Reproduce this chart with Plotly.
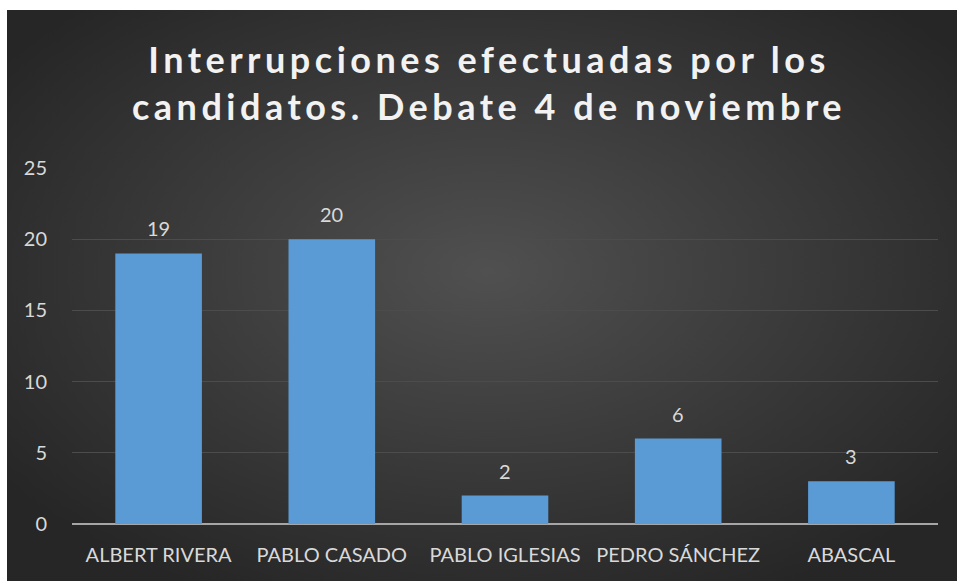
import plotly.graph_objects as go
import urllib.parse

candidatos = ['ALBERT RIVERA', 'PABLO CASADO', 'PABLO IGLESIAS', 'PEDRO SÁNCHEZ', 'ABASCAL']
interrupciones = [19, 20, 2, 6, 3]
y_ticks = [0, 5, 10, 15, 20, 25]

titulo = 'Interrupciones efectuadas por los<br>candidatos. Debate 4 de noviembre'

# radial gradient background (excel "dark" style), as an svg image
svg = ('<svg xmlns="http://www.w3.org/2000/svg" viewBox="0 0 100 100" preserveAspectRatio="none">'
       '<defs><radialGradient id="g" cx="50%" cy="45%" r="62%">'
       '<stop offset="0" stop-color="#505050"/><stop offset="1" stop-color="#262626"/>'
       '</radialGradient></defs><rect x="0" y="0" width="100" height="100" fill="url(#g)"/></svg>')
bg_src = 'data:image/svg+xml;charset=utf-8,' + urllib.parse.quote(svg)

W, H = 957, 581
left, right, top, bottom = 72, 19, 168, 57
pw = W - left - right
ph = H - top - bottom


def px_to_paper_x(px):
    return (px - left) / pw


def px_to_paper_y(py):
    return (H - bottom - py) / ph


fig = go.Figure()
fig.add_trace(go.Bar(
    x=candidatos, y=interrupciones,
    marker=dict(color='#5b9bd5', line=dict(width=0)),
    hoverinfo='x+y',
))

for c, v in zip(candidatos, interrupciones):
    fig.add_annotation(x=c, y=v, text=str(v), showarrow=False, yanchor='middle', yshift=25,
                       font=dict(family='Lato', size=20, color='#d9d9d9'))

fig.add_layout_image(dict(
    source=bg_src, xref='paper', yref='paper',
    x=px_to_paper_x(7), y=px_to_paper_y(10),
    sizex=px_to_paper_x(W + 10) - px_to_paper_x(7),
    sizey=px_to_paper_y(10) - px_to_paper_y(H + 10),
    sizing='stretch', xanchor='left', yanchor='top', layer='below',
))
# white strips along the top and left edge of the page
fig.add_shape(type='rect', xref='paper', yref='paper', layer='below', line_width=0, fillcolor='white',
              x0=px_to_paper_x(-5), x1=px_to_paper_x(W + 10), y0=px_to_paper_y(10), y1=px_to_paper_y(-5))
fig.add_shape(type='rect', xref='paper', yref='paper', layer='below', line_width=0, fillcolor='white',
              x0=px_to_paper_x(-5), x1=px_to_paper_x(7), y0=px_to_paper_y(H + 10), y1=px_to_paper_y(-5))

fig.update_layout(
    width=W, height=H,
    margin=dict(l=left, r=right, t=top, b=bottom),
    paper_bgcolor='#2a2a2a', plot_bgcolor='rgba(0,0,0,0)',
    bargap=0.5, showlegend=False,
    title=dict(text=titulo, x=px_to_paper_x(489), xref='paper', xanchor='center',
               y=1 - 73 / H, yanchor='middle',
               font=dict(family='Lato', size=36, color='#f2f2f2', weight='bold')),
    font=dict(family='Lato', color='#d9d9d9'),
)
fig.update_xaxes(showgrid=False, showline=False, ticks='',
                 tickfont=dict(size=20, color='#d9d9d9'), ticklabelstandoff=17)
fig.update_yaxes(range=[0, 25], tickvals=y_ticks, showgrid=True, gridcolor='#4c4c4c',
                 gridwidth=1, zeroline=True, zerolinecolor='#a6a6a6', zerolinewidth=2,
                 showline=False, ticks='', tickfont=dict(size=20, color='#d9d9d9'),
                 ticklabelstandoff=24)

# no page margin, dark page behind, and widen the title letters like the original chart
page_js = ("document.body.style.margin='0';document.body.style.overflow='hidden';"
           "document.documentElement.style.background='#2a2a2a';"
           "document.querySelectorAll('.gtitle').forEach(function(e){e.style.letterSpacing='4.5px';});")
fig.write_html('out.html', post_script=page_js, config={'displayModeBar': False})
